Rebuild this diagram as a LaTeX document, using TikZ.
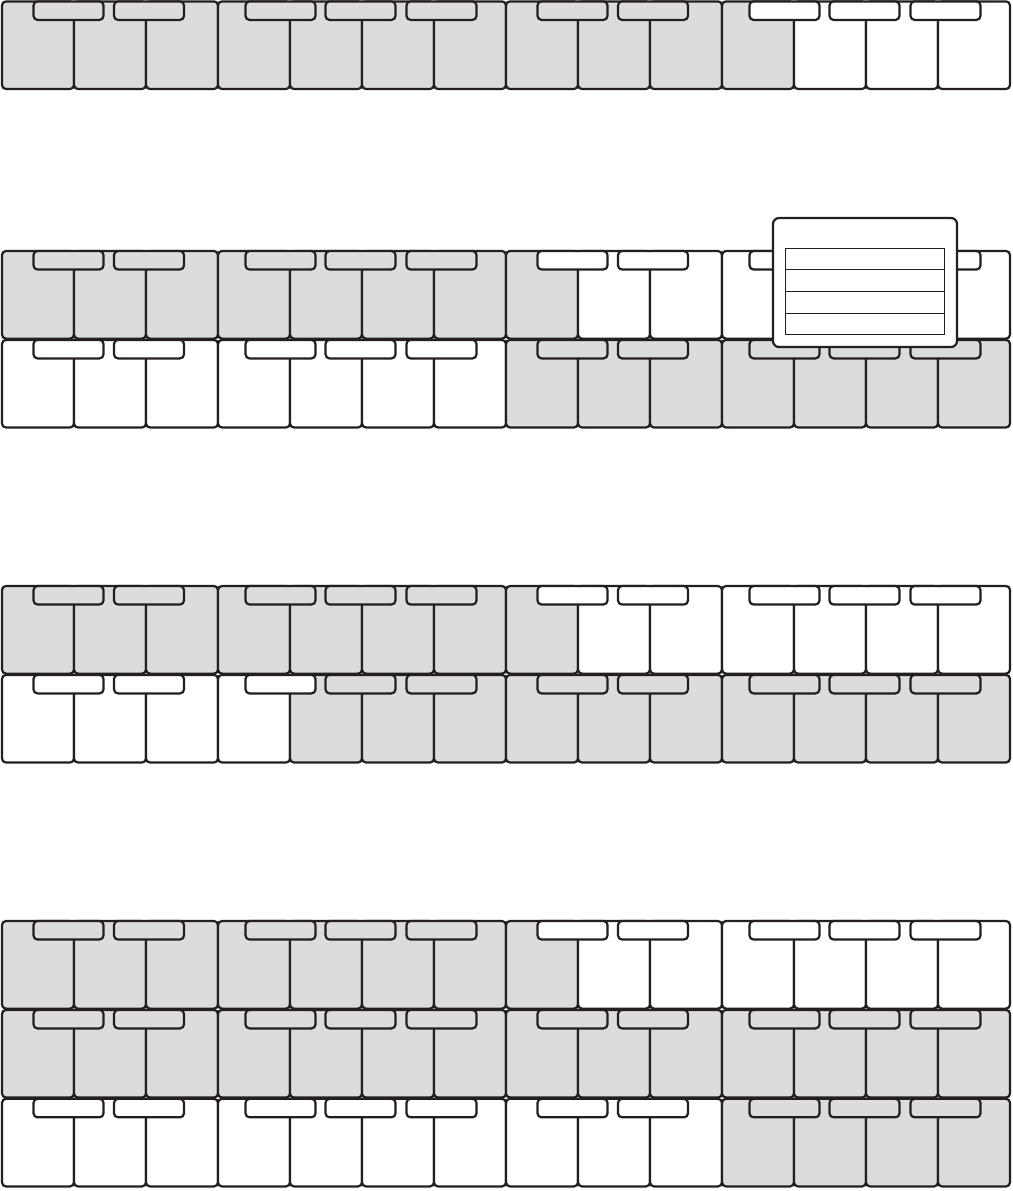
\documentclass[tikz,border=0pt]{standalone}
\definecolor{grisTecla}{HTML}{DCDCDC}
\definecolor{tinta}{HTML}{231F20}
% #1 = y superior, #2..#3 = semitonos en gris
\newcommand{\teclado}[3]{%
  \foreach \n/\s in {0/0,1/2,2/4,3/5,4/7,5/9,6/11,7/12,8/14,9/16,10/17,11/19,12/21,13/23}{
    \ifnum\s<#2 \def\col{white}\else\ifnum\s>#3 \def\col{white}\else\def\col{grisTecla}\fi\fi
    \draw[blanca,fill=\col] ({2+72*\n},#1) rectangle ++(72,87.6);
  }
  \foreach \o in {0,1}
    \foreach \c/\s in {66.5/1,147/3,278.5/6,358.5/8,439.5/10}{
      \pgfmathtruncatemacro\st{\s+12*\o}
      \ifnum\st<#2 \def\col{white}\else\ifnum\st>#3 \def\col{white}\else\def\col{grisTecla}\fi\fi
      \draw[negra,fill=\col] ({2+504*\o+\c-35},#1) rectangle ++(70,18.5);
    }
}

\begin{document}
\begin{tikzpicture}[x=1pt,y=-1pt,
    blanca/.style={draw=tinta,line width=2.2pt,rounded corners=4pt},
    negra/.style={draw=tinta,line width=2.2pt,rounded corners=4pt}]
  \useasboundingbox (0,0) rectangle (1012,1191);
  \teclado{1.4}{0}{17}
  \teclado{251}{0}{12}
  \teclado{339.9}{12}{23}
  \teclado{586}{0}{12}
  \teclado{674.9}{7}{23}
  \teclado{921}{0}{12}
  \teclado{1009.9}{0}{23}
  \teclado{1098.8}{17}{23}
  \draw[tinta,line width=2.2pt,fill=white,rounded corners=6pt] (773,218) rectangle (957,347);
  \draw[tinta,line width=1pt] (785,248) rectangle (944,334);
  \foreach \y in {269.5,291,313}
    \draw[tinta,line width=1pt] (785,\y) -- (944,\y);
\end{tikzpicture}
\end{document}
